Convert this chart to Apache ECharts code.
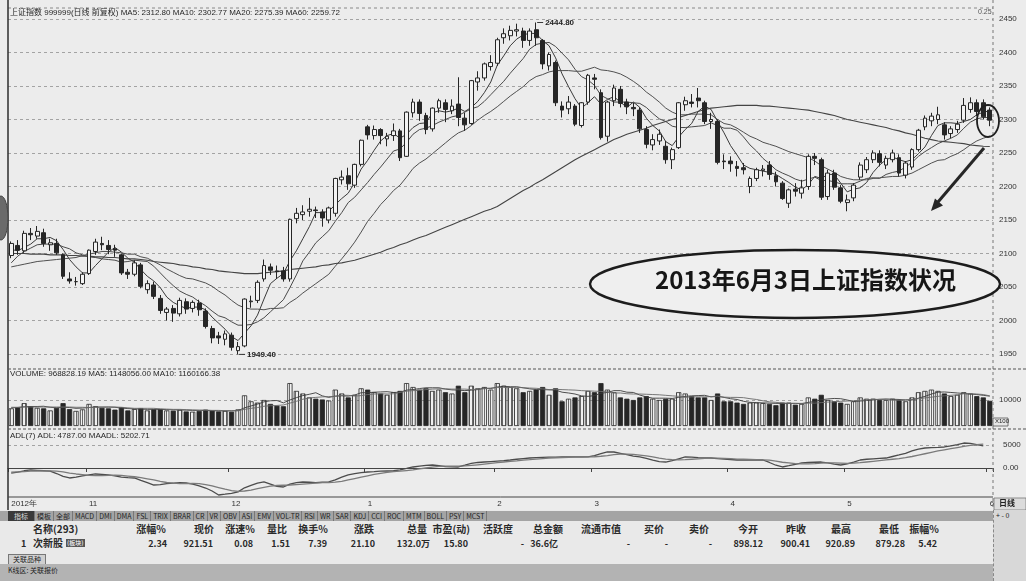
<!DOCTYPE html>
<html>
<head>
<meta charset="utf-8">
<script src="https://cdn.jsdelivr.net/npm/echarts@6/dist/echarts.min.js"></script>
<style>
html, body { margin: 0; padding: 0; background: #ebebeb; }
#wrap { position: relative; width: 1026px; height: 581px; overflow: hidden; font-family: "Noto Sans CJK SC", "DejaVu Sans", sans-serif; color: #222; }
#chart { position: absolute; left: 0; top: 0; width: 1026px; height: 510px; z-index: 1; }
#bottom { position: absolute; left: 0; top: 510px; width: 1026px; height: 71px; z-index: 5; background: #e9e9e9; }
.tabbar { position: absolute; left: 0; top: 1px; width: 993px; height: 10px; background: #a4a4a4; white-space: nowrap; overflow: hidden; z-index: 6; }
.tabbar span { display: inline-block; vertical-align: top; font-size: 7px; line-height: 10px; height: 10px; padding: 0 2px; border-right: 1px solid #777; color: #1e1e1e; }
.tabbar span.on { background: #3a3a3a; color: #ddd; padding: 0 6px; }
.tabbar .first { margin-left: 8px; }
.tbl { position: absolute; left: 0; top: 11px; width: 1010px; height: 32px; background: #e9e9e9; }
.tbl div { position: absolute; font-size: 9px; line-height: 11px; white-space: nowrap; font-weight: bold; color: #2a2a2a; }
.side { position: absolute; left: 993px; top: 0; width: 33px; height: 71px; background: #d8d8d8; border-left: 1px dashed #888; z-index: 7; }
.side div { font-size: 7px; line-height: 10px; color: #222; padding-left: 2px; }
.plug { position: absolute; left: 8px; top: 44px; height: 9px; padding: 0 4px; font-size: 7px; line-height: 9px; border: 1px solid #777; border-bottom: none; background: #cfcfcf; }
.status { position: absolute; left: 0; top: 54px; width: 1026px; height: 17px; background: #b3b3b3; }
.status span { position: absolute; left: 8px; top: 2px; font-size: 7px; line-height: 9px; color: #222; }
</style>
</head>
<body>
<div id="wrap">
  <div id="chart"></div>
  <div id="bottom">
    <div class="tabbar" id="tabbar"></div>
    <div class="tbl" id="tbl"></div>
    <div class="side"><div>+ - 0</div></div>
    <div class="plug">关联品种</div>
    <div class="status"><span>K线区: 关联报价</span></div>
  </div>
</div>
<script>
// trading days (2012-10 .. 2013-06)
const oct12 = [16,17,18,19,22,23,24,25,26,29,30,31]
const nov12 = [1,2,5,6,7,8,9,12,13,14,15,16,19,20,21,22,23,26,27,28,29,30]
const dec12 = [3,4,5,6,7,10,11,12,13,14,17,18,19,20,21,24,25,26,27,28,31]
const jan13 = [4,7,8,9,10,11,14,15,16,17,18,21,22,23,24,25,28,29,30,31]
const feb13 = [1,4,5,6,7,8,18,19,20,21,22,25,26,27,28]
const mar13 = [1,4,5,6,7,8,11,12,13,14,15,18,19,20,21,22,25,26,27,28,29]
const apr13 = [1,2,3,8,9,10,11,12,15,16,17,18,19,22,23,24,25,26]
const may13 = [2,3,6,7,8,9,10,13,14,15,16,17,20,21,22,23,24,27,28,29,30,31]
const jun13 = [3]
const monthNames = ['2012-10','2012-11','2012-12','2013-01','2013-02','2013-03','2013-04','2013-05','2013-06']
const monthTickLabels = ['2012年','11','12','1','2','3','4','5','6']

const opens = [
  2097,2112,2104,2130,2126,2131,2113,2115,2098,2062,2058,2055,
  2070,2103,2115,2112,2107,2098,2072,2069,2083,2046,2053,2033,2012,2018,2010,2028,2018,2026,2014,1988,1977,1972,
  1978,1955,1962,2028,2030,2062,2080,2074,2074,2062,2152,2158,2163,2165,2162,2150,2160,2210,2216,2202,2233,
  2289,2276,2285,2271,2276,2283,2245,2310,2326,2306,2286,2317,2325,2313,2323,2302,2294,2356,2362,2379,
  2384,2422,2425,2432,2432,2418,2434,2418,2380,2385,2320,2316,2320,2291,2326,
  2362,2340,2275,2328,2345,2326,2318,2314,2285,2262,2268,2260,2240,2258,2322,2326,2332,2325,2297,2297,2238,
  2238,2230,2228,2200,2212,2224,2232,2216,2205,2175,2196,2190,2200,2245,2240,2185,2220,2198,
  2176,2183,2214,2225,2240,2249,2232,2240,2243,2217,2229,2255,2289,2298,2300,2292,2279,2285,2299,2315,2325,2325,2314
]
const closes = [
  2115,2105,2130,2128,2133,2115,2116,2101,2066,2059,2058,2069,
  2105,2117,2113,2106,2105,2071,2069,2086,2051,2055,2036,2015,2017,2011,2030,2017,2027,2016,1991,1974,1974,1980,
  1960,1961,2032,2029,2057,2082,2075,2073,2062,2151,2160,2162,2166,2164,2153,2168,2212,2214,2204,2233,2269,
  2277,2285,2276,2275,2283,2243,2311,2326,2309,2285,2317,2328,2315,2320,2303,2292,2358,2362,2383,2385,
  2419,2428,2433,2434,2418,2432,2422,2383,2397,2325,2314,2326,2293,2325,2366,
  2360,2273,2326,2347,2324,2319,2316,2286,2263,2270,2278,2240,2255,2325,2328,2324,2328,2297,2300,2236,2237,
  2234,2227,2225,2212,2225,2226,2218,2207,2182,2195,2193,2198,2245,2242,2184,2220,2199,2178,
  2180,2202,2232,2240,2250,2236,2242,2250,2220,2235,2255,2284,2302,2305,2307,2277,2286,2293,2321,2325,2312,2304,2299
]
const lows = [
  2093,2098,2101,2120,2122,2110,2104,2098,2062,2055,2052,2053,
  2068,2098,2105,2099,2095,2068,2062,2066,2048,2040,2032,2010,2000,1998,2006,2010,2012,2007,1988,1966,1965,1963,
  1955,1949.4,1960,2019,2026,2058,2068,2062,2058,2058,2145,2150,2155,2153,2140,2145,2155,2203,2195,2198,2230,
  2270,2270,2263,2260,2268,2238,2244,2303,2298,2278,2282,2310,2296,2308,2290,2283,2292,2343,2358,2373,
  2380,2413,2418,2424,2407,2410,2410,2375,2373,2320,2303,2308,2290,2288,2322,
  2345,2270,2267,2320,2318,2308,2305,2280,2257,2254,2262,2234,2226,2256,2313,2318,2318,2293,2286,2233,2226,
  2222,2215,2218,2190,2208,2215,2210,2200,2180,2168,2185,2182,2195,2232,2180,2180,2195,2175,
  2163,2178,2210,2220,2235,2230,2226,2236,2215,2212,2225,2252,2284,2290,2293,2270,2272,2280,2295,2310,2305,2300,2290
]
const highs = [
  2118,2120,2134,2138,2141,2137,2122,2122,2100,2072,2065,2072,
  2106,2122,2125,2120,2113,2100,2077,2090,2086,2060,2058,2038,2020,2023,2034,2033,2030,2031,2018,1992,1983,1985,
  1982,1968,2033,2037,2060,2091,2085,2082,2080,2152,2168,2172,2183,2170,2166,2170,2213,2224,2228,2234,2270,
  2292,2291,2287,2280,2294,2286,2312,2331,2330,2310,2318,2331,2330,2330,2363,2310,2359,2372,2385,2396,
  2422,2436,2440,2443,2437,2436,2444.8,2420,2400,2388,2327,2335,2323,2326,2368,
  2368,2345,2328,2352,2350,2331,2325,2318,2290,2278,2285,2268,2258,2326,2334,2338,2347,2328,2310,2300,2248,
  2245,2238,2235,2215,2228,2232,2238,2222,2208,2197,2205,2210,2248,2250,2243,2225,2225,2202,
  2188,2205,2236,2244,2254,2254,2246,2255,2248,2238,2257,2286,2306,2310,2319,2296,2290,2298,2332,2333,2330,2330,2318
]
const ma5 = [
  2106,2104,2109,2114,2122,2122,2124,2119,2106,2091,2080,2071,
  2071,2082,2092,2102,2109,2102,2093,2087,2076,2066,2059,2049,2035,2027,2022,2018,2020,2020,2016,2005,1996,1987,
  1976,1970,1981,1992,2008,2032,2055,2063,2070,2089,2104,2122,2140,2161,2161,2163,2173,2182,2190,2206,2226,
  2239,2254,2268,2276,2279,2272,2278,2288,2294,2295,2310,2313,2311,2313,2317,2312,2318,2327,2340,2356,
  2381,2395,2410,2420,2426,2429,2428,2418,2410,2392,2368,2349,2331,2317,2325,
  2334,2323,2330,2334,2326,2318,2326,2318,2302,2291,2283,2267,2261,2274,2285,2294,2312,2320,2315,2297,2280,
  2261,2247,2232,2227,2225,2223,2221,2218,2212,2206,2199,2195,2203,2215,2212,2218,2218,2205,
  2192,2196,2198,2206,2221,2232,2240,2244,2240,2237,2240,2249,2259,2276,2291,2295,2295,2294,2297,2300,2307,2311,2312.8
]
const ma10 = [
  2086,2096,2103,2108,2113,2114,2114,2114,2110,2107,2101,2098,
  2095,2094,2092,2091,2090,2087,2088,2090,2089,2088,2081,2071,2061,2052,2044,2039,2035,2028,2022,2014,2007,2004,
  1998,1993,1993,1994,1998,2004,2013,2022,2031,2049,2068,2089,2102,2116,2125,2134,2148,2161,2176,2184,2195,
  2206,2218,2229,2241,2253,2256,2266,2278,2285,2287,2291,2296,2300,2304,2306,2311,2316,2319,2327,2337,
  2347,2357,2369,2380,2391,2405,2412,2414,2415,2409,2399,2389,2375,2364,2359,
  2351,2336,2331,2326,2326,2326,2325,2324,2318,2309,2301,2297,2290,2288,2288,2289,2290,2291,2295,2291,2287,
  2287,2284,2274,2262,2253,2242,2234,2225,2220,2216,2211,2208,2211,2214,2209,2209,2207,2204,
  2204,2204,2208,2212,2213,2212,2218,2221,2223,2229,2236,2245,2252,2258,2264,2268,2272,2277,2287,2296,2301,2303,2302.77
]
const ma20 = [
  2080,2082,2084,2086,2088,2089,2090,2091,2092,2093,2094,2097,
  2099,2101,2103,2103,2102,2101,2099,2099,2095,2093,2088,2083,2077,2072,2067,2063,2062,2059,2056,2051,2044,2038,
  2030,2023,2019,2017,2017,2016,2018,2018,2019,2027,2033,2041,2048,2055,2062,2069,2081,2092,2104,2117,2132,
  2148,2160,2173,2183,2194,2202,2214,2227,2235,2241,2249,2257,2265,2273,2280,2284,2291,2299,2306,2312,
  2319,2327,2335,2342,2349,2358,2364,2367,2371,2373,2373,2373,2372,2372,2375,
  2378,2374,2373,2371,2368,2363,2357,2350,2341,2334,2326,2317,2311,2307,2307,2308,2308,2308,2307,2300,2294,
  2292,2287,2281,2275,2271,2266,2263,2260,2256,2252,2249,2246,2243,2238,2231,2226,2221,2215,
  2212,2210,2210,2210,2212,2213,2214,2215,2215,2217,2220,2225,2230,2235,2239,2240,2245,2249,2255,2262,2268,2272,2275.39
]
const ma60 = [
  2100,2100,2100,2099,2099,2099,2098,2098,2098,2097,2097,2096,
  2096,2095,2095,2094,2094,2093,2092,2092,2091,2090,2088,2087,2086,2085,2083,2082,2080,2079,2077,2076,2074,2073,
  2072,2071,2070,2070,2070,2071,2072,2073,2074,2076,2077,2078,2079,2080,2082,2083,2085,2086,2088,2090,2093,
  2096,2099,2102,2106,2109,2113,2116,2120,2124,2127,2131,2135,2139,2143,2147,2151,2155,2159,2163,2166,
  2170,2176,2182,2188,2194,2199,2205,2210,2216,2222,2228,2234,2240,2245,2250,
  2255,2260,2265,2270,2274,2278,2281,2284,2287,2291,2294,2297,2300,2303,2306,2309,2312,2315,2317,2318,2319,
  2320,2321,2321,2321,2321,2320,2320,2319,2318,2317,2316,2315,2314,2312,2310,2308,2306,2303,
  2300,2298,2296,2294,2292,2290,2288,2285,2283,2280,2278,2275,2272,2270,2268,2267,2266,2265,2264,2262,2261,2260,2259.72
]
// volume, in units of 100
const volumes = [
  6800,7200,8800,7600,7000,6800,6000,7000,8800,6500,5800,6400,
  8500,7600,7000,6800,6300,7200,6000,6500,6900,6000,6400,6500,6000,5900,6200,5600,5500,5800,6300,5900,5600,5800,
  5500,6400,11800,9500,9000,10000,8500,7800,7600,16500,13500,12500,11000,10500,10200,9800,14000,12500,11000,12000,14500,
  14000,13000,12500,12000,13000,13500,16500,15000,14000,14500,13500,14000,13000,12500,15500,13000,15500,14500,15000,14000,
  16500,15500,15000,14500,13000,13500,14000,15000,12000,14500,9500,10500,11000,11500,13500,
  13000,16500,14000,13000,11000,10500,10000,11000,11500,10500,10000,10500,10500,13000,12500,11500,11000,11000,10000,12500,9500,
  9500,9000,8500,9000,9000,8800,8500,8000,9000,9000,8200,8500,11000,10500,12000,10000,9500,9000,
  8500,9500,11000,10500,10500,10000,10000,10500,10000,9500,11000,13000,13500,14000,13500,12500,11500,12000,13000,12500,11500,11000,9688
]
const volMa5 = [
  7000,7100,7400,7500,7500,7600,7200,7000,7200,7100,6800,6900,
  7100,7300,7300,7300,7200,6900,6700,6600,6500,6400,6400,6400,6300,6200,6200,6100,6000,6000,6000,5900,5800,5800,
  5800,5900,7000,7700,8400,9300,9700,9800,8900,10000,10900,11700,12200,12800,11600,11000,11500,11600,11500,11900,12800,
  12800,13000,13100,13200,12900,13000,13800,14000,14400,14700,14700,14700,14200,13900,13800,13600,13800,14000,14600,14400,
  15000,15300,15100,15100,14700,14300,14000,14000,13900,13800,13000,12700,12300,11600,11400,
  11700,12600,12900,13600,13600,13000,12900,11900,11200,10700,10700,10700,10600,11000,11400,11600,11700,11800,11200,11400,11000,
  10500,10200,9500,9100,9000,8900,8800,8700,8700,8700,8700,8600,9100,9400,10100,10400,10600,10500,
  10000,9400,9600,9800,10000,10300,10400,10300,10200,10000,10000,10700,11400,12300,13000,13100,12900,12700,12500,12300,12100,11800,11480
]
const volMa10 = [
  7200,7200,7300,7300,7300,7300,7300,7300,7300,7300,7200,7200,
  7100,7200,7200,7300,7300,7200,7000,6800,6800,6800,6800,6600,6500,6400,6400,6300,6200,6100,6100,6000,6000,5900,
  5900,5900,6400,6800,7100,7600,7800,7900,8100,8800,9500,10300,10800,11000,11200,11300,11400,11800,11800,11500,11700,
  12100,12300,12400,12300,12400,12900,13400,13600,13700,14000,14200,14300,14300,14200,14200,14200,14000,14200,14300,14600,
  14800,14800,14800,14900,14700,14600,14500,14300,14000,14100,14000,13900,13800,13600,13500,
  13400,13300,13100,12700,12700,12400,12300,12300,12200,12100,12000,11800,11600,11400,11000,11200,11200,11200,11300,11500,11100,
  11000,11000,10900,10500,10200,9700,9300,9100,8800,8700,8700,8700,8800,8800,9000,9200,9300,9500,
  9600,9700,9900,10100,10300,10200,10100,9900,9900,10100,10200,10500,10800,11100,11400,11600,11800,12000,12400,12400,12300,12100,11602
]
const adl = [
  -1100,-900,-600,-430,-500,-600,-700,-1200,-1800,-2170,-2000,-1700,
  -1500,-1300,-1400,-1500,-1700,-2000,-2100,-2170,-2700,-3200,-3700,-3600,-3400,-3300,-3200,-3250,-3500,-3900,-4350,-5000,-5870,-5700,
  -5500,-5200,-4300,-3800,-3300,-3040,-3500,-4000,-4130,-3500,-3200,-3040,-3100,-3200,-3100,-3040,-2600,-2000,-1500,-1200,-1000,
  -870,-800,-700,-650,-600,-400,-100,220,400,550,650,500,300,250,220,600,1000,1200,1300,
  1400,1500,1600,1740,1900,2050,2170,2250,2300,2350,2380,2400,2400,2400,2400,
  2400,2700,3100,3480,3480,3200,2900,2600,2400,2100,1700,1400,1300,1600,2000,2400,2350,2250,2200,2170,2050,
  1950,1850,1740,1740,1750,1740,1740,1200,600,220,500,800,1100,1200,1250,1300,1100,850,
  650,900,1300,1740,1900,2000,2100,2170,2500,2830,3200,3700,4100,4350,4450,4500,4570,4800,5100,5430,5350,5100,4787
]
const maadl = [
  -900,-850,-800,-700,-650,-620,-630,-700,-850,-1100,-1300,-1450,
  -1600,-1650,-1650,-1600,-1550,-1600,-1750,-1900,-2100,-2350,-2600,-2900,-3150,-3300,-3400,-3400,-3350,-3400,-3600,-3900,-4250,-4600,
  -4900,-5100,-5000,-4800,-4500,-4200,-3950,-3800,-3750,-3700,-3600,-3500,-3400,-3300,-3200,-3150,-3050,-2900,-2600,-2300,-2000,
  -1700,-1400,-1150,-950,-800,-700,-550,-400,-200,0,200,350,400,400,400,450,550,700,850,
  1000,1150,1300,1450,1550,1700,1800,1950,2050,2150,2200,2250,2300,2350,2380,
  2400,2450,2550,2700,2900,3000,3000,2950,2800,2650,2400,2150,1950,1800,1750,1800,1900,2000,2100,2150,2150,
  2100,2050,1950,1900,1850,1800,1780,1700,1500,1250,1100,950,900,900,950,1050,1100,1100,
  1050,1000,1050,1150,1300,1450,1600,1750,1900,2050,2250,2500,2800,3100,3400,3700,3950,4200,4450,4700,4900,5050,5203
]
const priceTicks = [1950, 2000, 2050, 2100, 2150, 2200, 2250, 2300, 2350, 2400, 2450]
const volTicks = [10000]
const adlTicks = [0, 5000]

const dayLists = [oct12, nov12, dec12, jan13, feb13, mar13, apr13, may13, jun13]
const dates = []
const monthStart = {}
dayLists.forEach((days, m) => {
  monthStart[dates.length] = monthTickLabels[m]
  days.forEach(d => dates.push(monthNames[m] + '-' + (d < 10 ? '0' + d : d)))
})

// hatched fill for rising volume bars
const hatch = document.createElement('canvas')
hatch.width = 3
hatch.height = 4
const hctx = hatch.getContext('2d')
hctx.fillStyle = '#f1f1f1'
hctx.fillRect(0, 0, 3, 4)
hctx.fillStyle = '#6a6a6a'
hctx.fillRect(1, 0, 1, 4)

const kData = opens.map((o, i) => [o, closes[i], lows[i], highs[i]])
const volData = volumes.map((v, i) => ({
  value: v,
  itemStyle: closes[i] >= opens[i]
    ? { color: { image: hatch, repeat: 'repeat' }, borderColor: '#2a2a2a', borderWidth: 0.8 }
    : { color: '#262626', borderColor: '#262626', borderWidth: 0.8 }
}))

const PY_MIN = 1927.6, PY_MAX = 2466.4
const dashed = { show: true, lineStyle: { color: '#a3a3a3', type: [3, 3], width: 1 } }
const plain = (v) => String(v)
const hiddenX = (g) => ({
  type: 'category', gridIndex: g, data: dates, boundaryGap: true,
  axisLine: { show: false }, axisTick: { show: false }, axisLabel: { show: false }, splitLine: { show: false }
})
const lineS = (name, data, x, y, color, w) => ({
  name, type: 'line', xAxisIndex: x, yAxisIndex: y, data, showSymbol: false, symbol: 'none',
  lineStyle: { color, width: w }, z: 3, silent: true, animation: false
})

const chart = echarts.init(document.getElementById('chart'), null, { renderer: 'canvas' })
const txt = (x, y, s, size, extra) => Object.assign({
  type: 'text', left: x, top: y, z: 100,
  style: { text: s, fontSize: size, fill: '#262626', fontFamily: 'Liberation Sans, Noto Sans CJK SC, sans-serif' }
}, extra || {})
const seg = (x1, y1, x2, y2, color, w, dash) => ({
  type: 'line', z: 90, shape: { x1, y1, x2, y2 },
  style: { stroke: color, lineWidth: w, lineDash: dash || null }
})

chart.setOption({
  backgroundColor: '#ececec',
  animation: false,
  grid: [
    { left: 8, right: 33, top: 8, height: 361 },
    { left: 8, right: 33, top: 369, height: 57 },
    { left: 8, right: 33, top: 430, height: 67 }
  ],
  xAxis: [
    hiddenX(0),
    hiddenX(1),
    {
      type: 'category', gridIndex: 2, data: dates, boundaryGap: true,
      axisLine: { show: true, lineStyle: { color: '#444', width: 1 } },
      axisTick: { show: true, length: 4, lineStyle: { color: '#444' }, interval: (i) => monthStart[i] !== undefined },
      axisLabel: {
        show: true, fontSize: 8, color: '#333', margin: 3, align: 'left',
        interval: (i) => monthStart[i] !== undefined,
        formatter: (v, i) => monthStart[i] || ''
      },
      splitLine: { show: false }
    }
  ],
  yAxis: [
    {
      type: 'value', gridIndex: 0, position: 'right', min: PY_MIN, max: PY_MAX, scale: true,
      axisLine: { show: false },
      axisTick: { show: false, customValues: priceTicks },
      axisLabel: { fontSize: 8, color: '#333', margin: 6, customValues: priceTicks, formatter: plain },
      splitLine: dashed
    },
    {
      type: 'value', gridIndex: 1, position: 'right', min: 0, max: 21923,
      axisLine: { show: false },
      axisTick: { show: false, customValues: volTicks },
      axisLabel: { fontSize: 8, color: '#333', margin: 6, customValues: volTicks, formatter: plain },
      splitLine: dashed
    },
    {
      type: 'value', gridIndex: 2, position: 'right', min: -6304, max: 8261,
      axisLine: { show: false },
      axisTick: { show: false, customValues: adlTicks },
      axisLabel: { fontSize: 8, color: '#333', margin: 10, customValues: adlTicks, formatter: (v) => v === 0 ? '0.00' : String(v) },
      splitLine: dashed
    }
  ],
  series: [
    {
      name: 'K', type: 'candlestick', xAxisIndex: 0, yAxisIndex: 0, data: kData, barWidth: '66%',
      itemStyle: { color: '#f3f3f3', color0: '#262626', borderColor: '#262626', borderColor0: '#262626', borderWidth: 1 },
      z: 4,
      markPoint: {
        symbol: 'rect', symbolSize: [6, 1], symbolOffset: [4, 0],
        itemStyle: { color: '#333' },
        label: { show: true, position: 'right', distance: 2, fontSize: 8, color: '#222', fontWeight: 'bold', formatter: (p) => p.name },
        data: [
          { name: '2444.80', coord: [81, 2444.8] },
          { name: '1949.40', coord: [35, 1949.4] }
        ]
      }
    },
    lineS('MA5', ma5, 0, 0, '#3a3a3a', 1),
    lineS('MA10', ma10, 0, 0, '#4a4a4a', 1),
    lineS('MA20', ma20, 0, 0, '#505050', 1),
    lineS('MA60', ma60, 0, 0, '#444', 1.1),
    { name: 'VOL', type: 'bar', xAxisIndex: 1, yAxisIndex: 1, data: volData, barWidth: '80%', z: 2 },
    lineS('VMA5', volMa5, 1, 1, '#3c3c3c', 0.9),
    lineS('VMA10', volMa10, 1, 1, '#6a6a6a', 0.9),
    lineS('ADL', adl, 2, 2, '#4c4c4c', 1.3),
    lineS('MAADL', maadl, 2, 2, '#7a7a7a', 1.3)
  ],
  graphic: [
    // panel frames
    seg(8, 8, 993, 8, '#888', 1, [3, 3]),
    seg(8, 0, 8, 510, '#2e2e2e', 1.5),
    seg(993, 0, 993, 510, '#777', 1, [3, 3]),
    seg(8, 369, 1026, 369, '#555', 1, [3, 2]),
    seg(8, 429, 1026, 429, '#555', 1, [3, 2]),
    seg(8, 497, 993, 497, '#444', 1),
    // binding shadow at the left edge
    { type: 'ellipse', z: 95, shape: { cx: 1, cy: 218, rx: 7, ry: 22 }, style: { fill: '#6a6a6a', stroke: '#444', lineWidth: 1 } },
    // header texts
    txt(10, 9, '上证指数 999999(日线 前复权) MA5: 2312.80 MA10: 2302.77 MA20: 2275.39 MA60: 2259.72', 8),
    txt(10, 370, 'VOLUME: 968828.19 MA5: 1148056.00 MA10: 1160166.38', 8),
    txt(10, 432, 'ADL(7) ADL: 4787.00 MAADL: 5202.71', 8),
    txt(978, 9, '0.25', 7, { style: { text: '0.25', fontSize: 7, fill: '#555' } }),
    // x100 tag on the volume axis
    { type: 'rect', z: 95, shape: { x: 993, y: 418, width: 15, height: 8 }, style: { fill: '#e6e6e6', stroke: '#555', lineWidth: 0.8 } },
    txt(995, 418, 'X100', 6, { style: { text: 'X100', fontSize: 6, fill: '#222' } }),
    { type: 'rect', z: 95, shape: { x: 994, y: 498, width: 32, height: 12 }, style: { fill: '#dcdcdc', stroke: '#777', lineWidth: 0.8 } },
    txt(999, 499, '日线', 8, { style: { text: '日线', fontSize: 8, fill: '#222', fontWeight: 'bold', fontFamily: 'Noto Sans CJK SC' } }),
    // big annotation ellipse
    { type: 'ellipse', z: 110, shape: { cx: 795, cy: 284, rx: 205, ry: 34 }, style: { fill: '#efefef', stroke: '#1c1c1c', lineWidth: 2.4 } },
    {
      type: 'text', z: 111, left: 655, top: 268,
      style: { text: '2013年6月3日上证指数状况', fontSize: 24, fontWeight: 'bold', fill: '#161616', fontFamily: 'Noto Sans CJK SC' }
    },
    // circle around the last candles and the arrow
    { type: 'ellipse', z: 110, shape: { cx: 988, cy: 121, rx: 11, ry: 16 }, style: { fill: null, stroke: '#1e1e1e', lineWidth: 1.8 } },
    seg(984, 148, 938, 202, '#262626', 3),
    { type: 'polygon', z: 110, shape: { points: [[931, 211], [943, 205.5], [935, 198.5]] }, style: { fill: '#262626' } }
  ]
})

// bottom quote table
const tabs = ['模板','全部','MACD','DMI','DMA','FSL','TRIX','BRAR','CR','VR','OBV','ASI','EMV','VOL-TR','RSI','WR','SAR','KDJ','CCI','ROC','MTM','BOLL','PSY','MCST']
const tabbar = document.getElementById('tabbar')
tabbar.innerHTML = '<span class="on first">指标</span>' + tabs.map(t => '<span>' + t + '</span>').join('')

const headers = ['涨幅%','现价','涨速%','量比','换手%','涨跌','总量','市盈(动)','活跃度','总金额','流通市值','买价','卖价','今开','昨收','最高','最低','振幅%']
const rowValues = ['2.34','921.51','0.08','1.51','7.39','21.10','132.0万','15.80','-','36.6亿','-','-','-','898.12','900.41','920.89','879.28','5.42']
const colRight = [166, 214, 255, 287, 328, 374, 427, 470, 513, 563, 621, 664, 709, 758, 806, 851, 899, 939]
const valRight = [167, 213, 253, 290, 327, 375, 430, 468, 524, 558, 630, 668, 712, 763, 810, 855, 905, 937]
let html = '<div style="left:33px;top:2px;font-size:10px">名称(293)</div>' +
  '<div style="left:21px;top:17px">1</div>' +
  '<div style="left:33px;top:16px;font-size:10px">次新股</div>' +
  '<div style="left:66px;top:18px;font-size:6px;background:#555;color:#ddd;padding:0 1px;line-height:8px">(板块)</div>'
headers.forEach((h, i) => {
  html += '<div style="right:' + (1010 - colRight[i]) + 'px;top:2px;font-size:10px">' + h + '</div>'
  html += '<div style="right:' + (1010 - valRight[i]) + 'px;top:17px">' + rowValues[i] + '</div>'
})
document.getElementById('tbl').innerHTML = html
</script>
</body>
</html>
